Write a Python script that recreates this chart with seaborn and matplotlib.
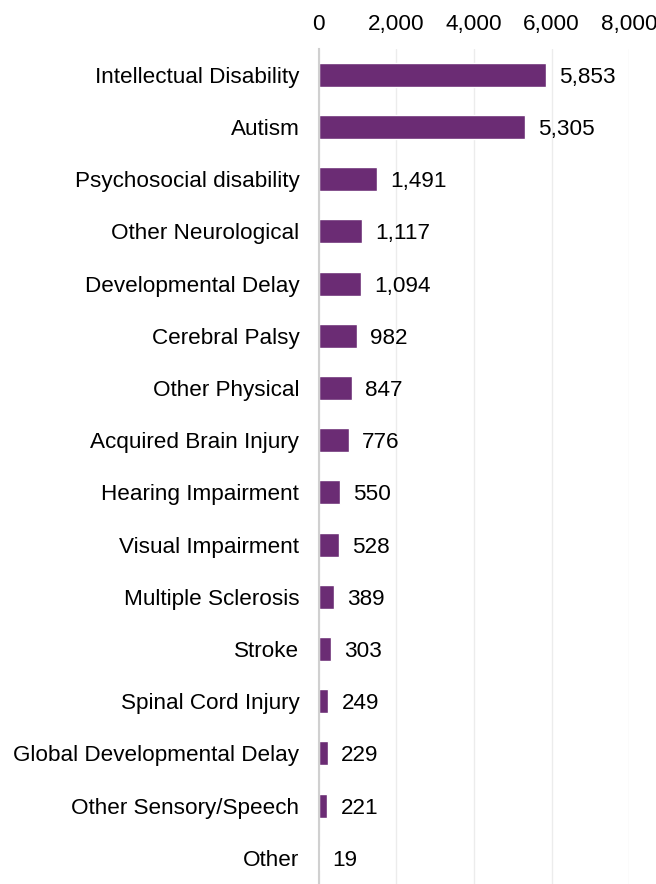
import matplotlib
matplotlib.use("Agg")
import matplotlib.pyplot as plt
import seaborn as sns
import pandas as pd

# Participants by primary disability
categories = ["Intellectual Disability", "Autism", "Psychosocial disability",
              "Other Neurological", "Developmental Delay", "Cerebral Palsy",
              "Other Physical", "Acquired Brain Injury", "Hearing Impairment",
              "Visual Impairment", "Multiple Sclerosis", "Stroke",
              "Spinal Cord Injury", "Global Developmental Delay",
              "Other Sensory/Speech", "Other"]
counts = [5853, 5305, 1491, 1117, 1094, 982, 847, 776, 550, 528, 389, 303,
          249, 229, 221, 19]
x_ticks = [0, 2000, 4000, 6000, 8000]

df = pd.DataFrame({"category": categories, "count": counts})

sns.set_style("white")
plt.rcParams["font.family"] = ["Liberation Sans", "DejaVu Sans"]
plt.rcParams["text.color"] = "black"
plt.rcParams["xtick.color"] = "black"
plt.rcParams["ytick.color"] = "black"

fs = 16.2
fig = plt.figure(figsize=(6.56, 8.84), dpi=100)
ax = fig.add_axes([0.486, 0.0, 0.473, 0.945])

sns.barplot(data=df, x="count", y="category", color="#6b2c74",
            saturation=1, width=0.46, ax=ax)

ax.set_xlim(0, 8000)
ax.set_ylim(15.5, -0.5)
ax.set_xticks(x_ticks)
ax.set_xticklabels([f"{t:,}" for t in x_ticks], fontsize=fs)
ax.xaxis.tick_top()
ax.tick_params(axis="x", length=0, pad=10)
ax.tick_params(axis="y", length=0, pad=14, labelsize=fs)
ax.set_xlabel("")
ax.set_ylabel("")
ax.grid(axis="x", color="#ececec", linewidth=1)
ax.set_axisbelow(True)
for side in ["top", "right", "bottom"]:
    ax.spines[side].set_visible(False)
ax.spines["left"].set_color("#d0d0d0")
ax.spines["left"].set_linewidth(1.5)

for i, v in enumerate(counts):
    ax.text(v + 340, i, f"{v:,}", va="center_baseline", ha="left", fontsize=fs)

fig.savefig("out.png", dpi=100)
